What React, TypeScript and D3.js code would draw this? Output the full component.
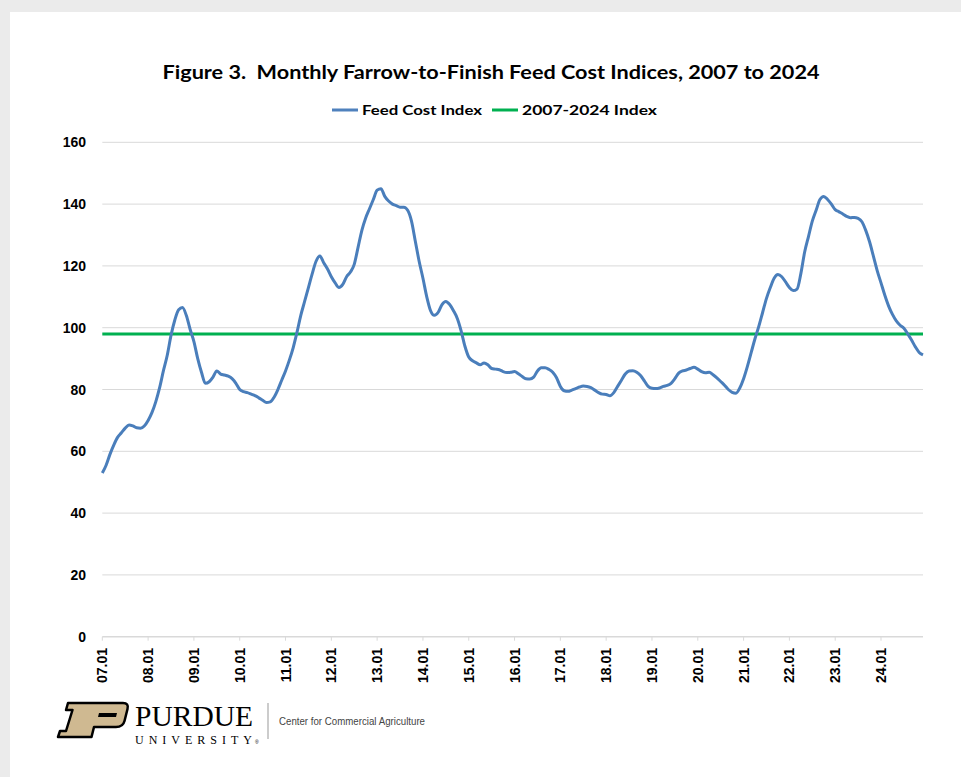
import React from 'react'
import * as d3 from 'd3'

// monthly feed cost index, 07.01 .. 24.12
const feedCost = [
  53, 55.5, 59, 62, 64.5, 66, 67.5, 68.5, 68.2, 67.6, 67.5, 68.2,
  70, 72.5, 76, 80.5, 86, 91, 97.5, 102.5, 105.8, 106.5, 104, 99.5,
  95.5, 90, 85.5, 82, 82.5, 84, 86, 85, 84.7, 84.3, 83.5, 82,
  80, 79.3, 79, 78.5, 78, 77.3, 76.5, 75.8, 76, 77.5, 80, 83,
  86, 89.5, 93.5, 98.5, 104, 108.5, 113, 117.5, 121.5, 123.2, 121, 119,
  116.5, 114.5, 113, 114, 116.5, 118, 120.5, 126, 131.5, 135.5, 138.5, 141.5,
  144.5, 145, 142.5, 141, 140, 139.5, 139, 139, 138, 134.5, 128, 121.5,
  116, 110, 105.5, 104, 105, 107.5, 108.5, 107.5, 105.5, 103, 99, 94,
  90.5, 89.3, 88.6, 88, 88.6, 88, 86.8, 86.6, 86.4, 85.8, 85.5, 85.6,
  85.8, 85.1, 84.2, 83.5, 83.4, 84, 86, 87, 87, 86.5, 85.6, 83.8,
  81, 79.6, 79.4, 79.8, 80.3, 80.8, 81.1, 81, 80.6, 79.8, 79, 78.5,
  78.4, 78, 79, 81, 83, 85, 86, 86.1, 85.6, 84.5, 82.8, 81,
  80.4, 80.3, 80.5, 81, 81.3, 82, 83.5, 85.3, 86, 86.3, 86.8, 87.2,
  86.6, 85.8, 85.4, 85.6, 84.8, 83.8, 82.6, 81.4, 80, 79.1, 78.8, 80.5,
  83.5, 87.5, 92, 96.5, 100.5, 105, 109.5, 113, 116, 117.2, 116.5, 114.8,
  113, 112, 112.5, 117.5, 124.5, 129.5, 134.5, 138, 141.5, 142.5, 141.5, 140,
  138.2, 137.5, 136.8, 136, 135.6, 135.7, 135.4, 134.3, 131.5, 127.8, 123.2, 118.5,
  114.5, 110.5, 107, 104.3, 102.2, 100.8, 99.8, 98, 96, 93.8, 92, 91.2,
]
const longRunIndex = 98
const yearLabels = ['07.01', '08.01', '09.01', '10.01', '11.01', '12.01', '13.01', '14.01', '15.01',
  '16.01', '17.01', '18.01', '19.01', '20.01', '21.01', '22.01', '23.01', '24.01']
const yTicks = [0, 20, 40, 60, 80, 100, 120, 140, 160]

const calibri = 'Lato, "Open Sans", sans-serif'
const arial = '"Liberation Sans", Arial, sans-serif'

export default function App() {
  const x = d3.scaleLinear().domain([0, feedCost.length - 1]).range([102.3, 923])
  const y = d3.scaleLinear().domain([0, 160]).range([636.7, 142.3])

  const line = d3.line<number>()
    .x((d, i) => x(i))
    .y(d => y(d))
    .curve(d3.curveMonotoneX)

  return (
    <svg width={961} height={777} style={{ position: 'absolute', left: 0, top: 0 }}>
      <rect width={961} height={777} fill="#ebebeb" />
      <rect x={10} y={12} width={951} height={765} fill="#fff" />

      <text x={491} y={79} textAnchor="middle" fontFamily={calibri} fontWeight="bold" fontSize={19}
        textLength={657} lengthAdjust="spacingAndGlyphs" style={{ whiteSpace: 'pre' }}>
        Figure 3.  Monthly Farrow-to-Finish Feed Cost Indices, 2007 to 2024
      </text>

      {/* legend */}
      <line x1={332} x2={358} y1={110} y2={110} stroke="#4f81bd" strokeWidth={3} />
      <text x={362} y={115} fontFamily={calibri} fontWeight="bold" fontSize={14}
        textLength={120} lengthAdjust="spacingAndGlyphs">Feed Cost Index</text>
      <line x1={492} x2={518} y1={110} y2={110} stroke="#00b050" strokeWidth={3} />
      <text x={522} y={115} fontFamily={calibri} fontWeight="bold" fontSize={14}
        textLength={135} lengthAdjust="spacingAndGlyphs">2007-2024 Index</text>

      {/* grid + y axis */}
      {yTicks.map(t => (
        <g key={t}>
          {t > 0 && <line x1={102.3} x2={923} y1={y(t)} y2={y(t)} stroke="#d9d9d9" strokeWidth={1} />}
          <text x={86} y={y(t) + 5} textAnchor="end" fontFamily={arial} fontWeight="bold" fontSize={14}>{t}</text>
        </g>
      ))}
      <line x1={102.3} x2={923} y1={y(0)} y2={y(0)} stroke="#d9d9d9" strokeWidth={1.5} />
      {yearLabels.map((lab, k) => {
        const xx = x(k * 12)
        return (
          <g key={lab}>
            <line x1={xx} x2={xx} y1={y(0)} y2={y(0) + 4} stroke="#d9d9d9" strokeWidth={1} />
            <text transform={`translate(${xx + 5},648) rotate(-90)`} textAnchor="end"
              fontFamily={arial} fontWeight="bold" fontSize={14}>{lab}</text>
          </g>
        )
      })}

      <line x1={102.3} x2={923} y1={y(longRunIndex)} y2={y(longRunIndex)} stroke="#00b050" strokeWidth={3} />
      <path d={line(feedCost) || ''} fill="none" stroke="#4a7ebb" strokeWidth={3} strokeLinejoin="round" />

      {/* Purdue logo */}
      <path d="M70 703 L123 703 Q129 703 127.5 709 L124.5 721 Q123 727 116 727 L94 727 L91.5 737 L58 737 L60 731 L66 731 L72.5 710 L66 710 L68 703 Z"
        fill="#cfb991" stroke="#000" strokeWidth={2.5} strokeLinejoin="round" />
      <path d="M99 713 L117 713 L116 717 L98 717 Z" fill="#000" />
      <text x={135} y={726} fontFamily='"Liberation Serif", serif' fontSize={29}
        textLength={118} lengthAdjust="spacingAndGlyphs">PURDUE</text>
      <text x={135} y={744} fontFamily='"Liberation Serif", serif' fontSize={12}
        textLength={117} lengthAdjust="spacing">UNIVERSITY</text>
      <text x={255} y={744} fontFamily={arial} fontSize={5}>®</text>
      <line x1={268} x2={268} y1={703} y2={739} stroke="#999" strokeWidth={1} />
      <text x={279} y={725} fontFamily={arial} fontSize={11} fill="#444"
        textLength={146} lengthAdjust="spacingAndGlyphs">Center for Commercial Agriculture</text>
    </svg>
  )
}
